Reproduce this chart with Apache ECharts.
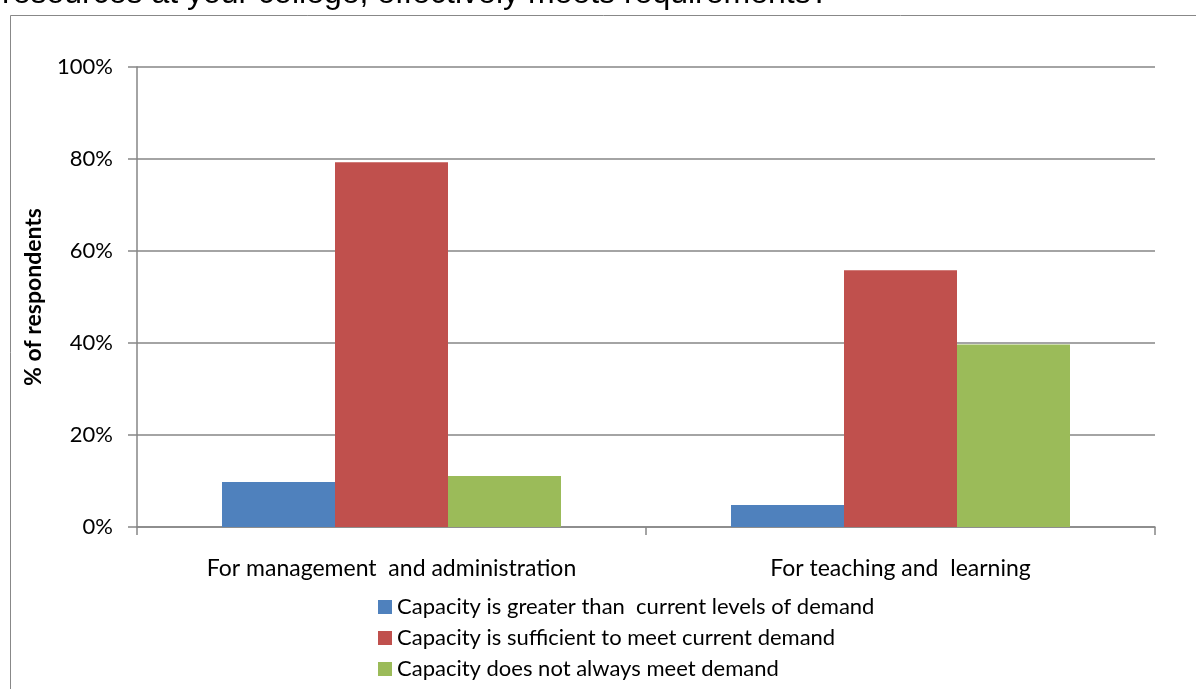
<!DOCTYPE html>
<html>
<head>
<meta charset="utf-8">
<script src="https://cdn.jsdelivr.net/npm/echarts@6/dist/echarts.min.js"></script>
<style>
    html, body { margin: 0; padding: 0; background: #fff; }
    #chart { width: 1196px; height: 689px; }
</style>
</head>
<body>
<div id="chart"></div>
<script>
var categories = ['For management  and administration', 'For teaching and  learning'];
var seriesNames = [
    'Capacity is greater than  current levels of demand',
    'Capacity is sufficient to meet current demand',
    'Capacity does not always meet demand'
];
var greaterValues = [9.8, 4.8];
var sufficientValues = [79.3, 55.8];
var notAlwaysValues = [11.1, 39.7];
var colors = ['#4F81BD', '#C0504D', '#9BBB59'];

var myChart = echarts.init(document.getElementById('chart'));

function makeSeries(name, data, color) {
    return {
        name: name,
        type: 'bar',
        data: data,
        barGap: '0%',
        barCategoryGap: '33.4%',
        itemStyle: { color: color },
        emphasis: { disabled: true }
    };
}

var option = {
    animation: false,
    backgroundColor: '#fff',
    title: {
        text: 'resources at your college, effectively meets requirements?',
        left: -3,
        top: -27,
        textStyle: {
            fontFamily: 'Liberation Sans',
            fontSize: 32,
            fontWeight: 'normal',
            color: '#000'
        }
    },
    graphic: [{
        type: 'rect',
        shape: { x: 10.5, y: 15.5, width: 1200, height: 700 },
        style: { fill: 'none', stroke: '#888', lineWidth: 1 },
        z: -1
    }],
    legend: {
        orient: 'vertical',
        left: 373,
        top: 591,
        itemWidth: 14,
        itemHeight: 14,
        itemGap: 9,
        icon: 'rect',
        textStyle: { fontFamily: 'Lato', fontSize: 22, color: '#000' },
        data: seriesNames
    },
    grid: { left: 137, right: 41, top: 67, bottom: 162 },
    xAxis: {
        type: 'category',
        data: categories,
        axisLine: { lineStyle: { color: '#868686', width: 1.5 } },
        axisTick: { show: true, length: 8, lineStyle: { color: '#868686', width: 1.5 } },
        axisLabel: { margin: 30, fontFamily: 'Lato', fontSize: 23, color: '#000' }
    },
    yAxis: {
        type: 'value',
        min: 0,
        max: 100,
        interval: 20,
        name: '% of respondents',
        nameLocation: 'middle',
        nameGap: 92,
        nameTextStyle: { fontFamily: 'Lato', fontSize: 23, fontWeight: 'bold', color: '#000' },
        axisLine: { show: true, lineStyle: { color: '#868686', width: 1.5 } },
        axisTick: { show: true, length: 9, lineStyle: { color: '#868686', width: 1.5 } },
        axisLabel: { margin: 24, formatter: '{value}%', fontFamily: 'Lato', fontSize: 22, color: '#000' },
        splitLine: { lineStyle: { color: '#868686', width: 1.5 } }
    },
    series: [
        makeSeries(seriesNames[0], greaterValues, colors[0]),
        makeSeries(seriesNames[1], sufficientValues, colors[1]),
        makeSeries(seriesNames[2], notAlwaysValues, colors[2])
    ]
};
myChart.setOption(option);
</script>
</body>
</html>
